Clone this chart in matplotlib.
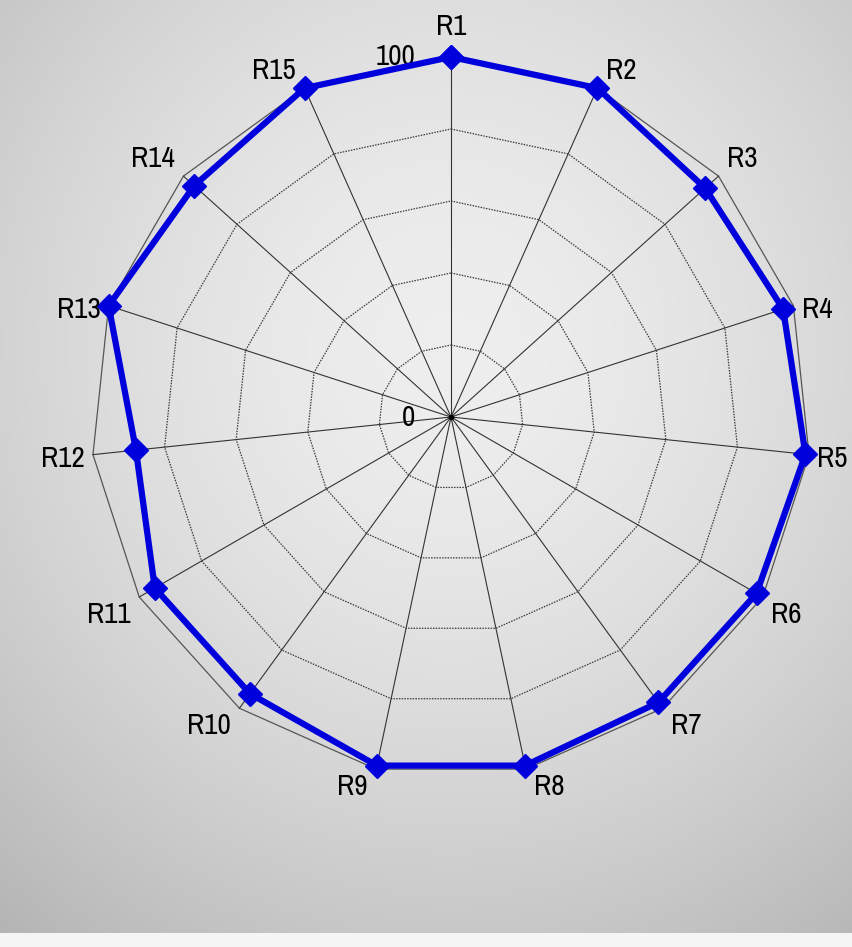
import matplotlib
matplotlib.use("Agg")
import matplotlib.pyplot as plt
from matplotlib import font_manager
import numpy as np

categories = ["R1", "R2", "R3", "R4", "R5", "R6", "R7", "R8",
              "R9", "R10", "R11", "R12", "R13", "R14", "R15"]
values = [100, 100, 95, 97, 99, 98, 98, 99, 99, 95, 95, 88, 100, 96, 100]
ring_levels = [20, 40, 60, 80]
axis_max = 100

# the original uses a narrow font; take one if there is one
narrow = sorted({f.name for f in font_manager.fontManager.ttflist
                 if 'Narrow' in f.name or 'Condensed' in f.name})
plt.rcParams['font.family'] = narrow[:1] + ['DejaVu Sans']
FS = 21

W, H = 853, 947
cx, cy = 451, 530          # centre of the web in pixels (from bottom)
scale = 3.6                # pixels per unit

# spoke angles, clockwise from the top
ang = np.deg2rad(np.arange(len(categories)) * 360.0 / len(categories))

def xy(r, a):
    return r * np.sin(a), r * np.cos(a)

fig = plt.figure(figsize=(W / 100, H / 100), dpi=100)
fig.patch.set_facecolor('#f5f5f5')
ax = fig.add_axes([0, 0, 1, 1])
ax.set_xlim(-cx / scale, (W - cx) / scale)
ax.set_ylim(-cy / scale, (H - cy) / scale)
ax.axis('off')

# grey radial background, stopping above the light strip at the bottom
strip = 14
gx = np.linspace(0, W, 300)
gy = np.linspace(strip, H, 330)
GX, GY = np.meshgrid(gx, gy)
d = np.hypot(GX - cx, (GY - 600) * 0.95) / 640
shade = 0.935 - 0.19 * np.clip(d, 0, 1.3) ** 1.6
ax.imshow(np.dstack([shade] * 3), origin='lower', zorder=0, aspect='auto',
          extent=[-cx / scale, (W - cx) / scale, (strip - cy) / scale, (H - cy) / scale])

# web
for lvl in ring_levels:
    px, py = xy(lvl, np.append(ang, ang[0]))
    ax.plot(px, py, color='#3a3a3a', lw=0.9, ls=(0, (1.2, 1.0)), zorder=2)
px, py = xy(axis_max, np.append(ang, ang[0]))
ax.plot(px, py, color='#555555', lw=0.9, zorder=2)
for a in ang:
    px, py = xy(np.array([0, axis_max]), a)
    ax.plot(px, py, color='#333333', lw=0.8, zorder=2)
ax.plot([0], [0], 'o', color='black', ms=3, zorder=3)

# scale labels
ax.text(-10, 0, "0", ha='right', va='center', fontsize=FS, zorder=4)
ax.text(-10, axis_max, "100", ha='right', va='center', fontsize=FS, zorder=4)

# series
px, py = xy(np.array(values + values[:1]), np.append(ang, ang[0]))
ax.plot(px, py, color='#0000dd', lw=4.5, marker='D', ms=12, zorder=5)

# category labels
for name, a in zip(categories, ang):
    s, c = np.sin(a), np.cos(a)
    ha = 'left' if s > 0.15 else ('right' if s < -0.15 else 'center')
    va = 'bottom' if c > 0.45 else ('top' if c < -0.45 else 'center')
    ox = 6 if ha == 'left' else (-6 if ha == 'right' else 0)
    oy = 3 if va == 'bottom' else (-3 if va == 'top' else -3)
    if ha == 'center':
        oy = 12 if va == 'bottom' else -4
    px, py = xy(axis_max, a)
    ax.annotate(name, (px, py), xytext=(ox, oy), textcoords='offset points',
                ha=ha, va=va, fontsize=FS, zorder=6)

fig.savefig("out.png", dpi=100, facecolor=fig.get_facecolor())
